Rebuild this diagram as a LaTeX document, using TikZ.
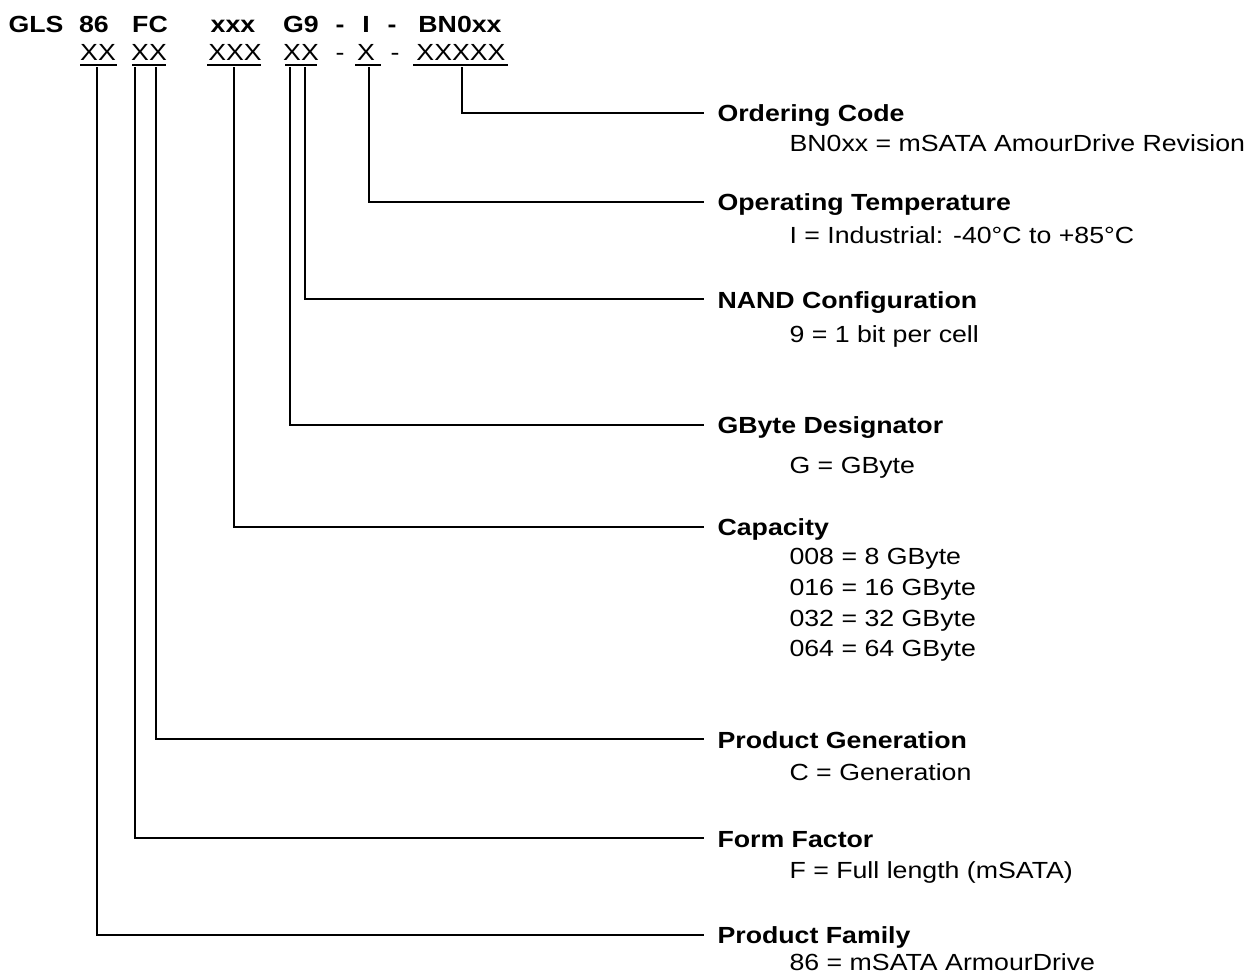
\documentclass[tikz,border=0pt]{standalone}
\usepackage{fontspec}
\setmainfont{Liberation Sans}[FakeStretch=1.145]
\usetikzlibrary{calc}
\begin{document}
\begin{tikzpicture}[x=0.375pt,y=-0.375pt,
  txt/.style={inner sep=0pt,font=\fontsize{8.75pt}{10pt}\selectfont},
  codetxt/.style={txt,font=\fontsize{8.75pt}{10pt}\selectfont\bfseries,anchor=base},
  posfield/.style={txt,anchor=base},
  title/.style={txt,font=\fontsize{8.75pt}{10pt}\selectfont\bfseries,anchor=base west},
  desc/.style={txt,anchor=base west},
  uline/.style={line width=0.5pt},
  conn/.style={line width=0.6pt}]
\path[use as bounding box] (0,0) rectangle (1247,974);

% --- top row: the code ---
\node[codetxt] (cGLS) at (36,32) {GLS};
\node[codetxt] (c86)  at (94,32) {86};
\node[codetxt] (cFC)  at (150,32) {FC};
\node[codetxt] (cxxx) at (233,32) {xxx};
\node[codetxt] (cG9)  at (301,32) {G9};
\node[codetxt] (cd1)  at (340,32) {-};
\node[codetxt] (cI)   at (366,32) {I};
\node[codetxt] (cd2)  at (392,32) {-};
\node[codetxt] (cBN)  at (460,32) {BN0xx};

% --- second row: positions ---
\node[posfield] (p1) at (98,60) {XX};
\node[posfield] (p2) at (149,60) {XX};
\node[posfield] (p3) at (235,60) {XXX};
\node[posfield] (p4) at (301,60) {XX};
\node[posfield] (pd1) at (340,60) {-};
\node[posfield] (p5) at (366,60) {X};
\node[posfield] (pd2) at (395,60) {-};
\node[posfield] (p6) at (461,60) {XXXXX};

\draw[uline] (80,65) -- (117,65);
\draw[uline] (132,65) -- (166,65);
\draw[uline] (207,65) -- (261,65);
\draw[uline] (285,65) -- (317,65);
\draw[uline] (355,65) -- (381,65);
\draw[uline] (413,65) -- (508,65);

% --- connector start points ---
\coordinate (s1) at (97,67);
\coordinate (s2) at (135,67);
\coordinate (s3) at (156,67);
\coordinate (s4) at (234,67);
\coordinate (s5) at (290,67);
\coordinate (s6) at (305,67);
\coordinate (s7) at (369,67);
\coordinate (s8) at (462,67);

% --- connector end points ---
\coordinate (e8) at (704,113);
\coordinate (e7) at (704,202);
\coordinate (e6) at (704,299);
\coordinate (e5) at (704,425);
\coordinate (e4) at (704,527);
\coordinate (e3) at (704,739);
\coordinate (e2) at (704,838);
\coordinate (e1) at (704,935);

% --- labels ---
\node[title] (t8) at (717,121) {Ordering Code};
\node[desc]  (d8) at (789,151) {BN0xx = mSATA AmourDrive Revision};
\node[title] (t7) at (717,210) {Operating Temperature};
\node[desc]  (d7) at (789,243) {I = Industrial: -40°C to +85°C};
\node[title] (t6) at (717,308) {NAND Configuration};
\node[desc]  (d6) at (789,342) {9 = 1 bit per cell};
\node[title] (t5) at (717,433) {GByte Designator};
\node[desc]  (d5) at (789,473) {G = GByte};
\node[title] (t4) at (717,535) {Capacity};
\node[desc]  (d4a) at (789,564) {008 = 8 GByte};
\node[desc]  (d4b) at (789,595) {016 = 16 GByte};
\node[desc]  (d4c) at (789,626) {032 = 32 GByte};
\node[desc]  (d4d) at (789,656) {064 = 64 GByte};
\node[title] (t3) at (717,748) {Product Generation};
\node[desc]  (d3) at (789,780) {C = Generation};
\node[title] (t2) at (717,847) {Form Factor};
\node[desc]  (d2) at (789,878) {F = Full length (mSATA)};
\node[title] (t1) at (717,943) {Product Family};
\node[desc]  (d1) at (789,970) {86 = mSATA ArmourDrive};

% --- connectors ---
\foreach \i in {1,...,8}{\draw[conn] (s\i) |- (e\i);}
\end{tikzpicture}
\end{document}
